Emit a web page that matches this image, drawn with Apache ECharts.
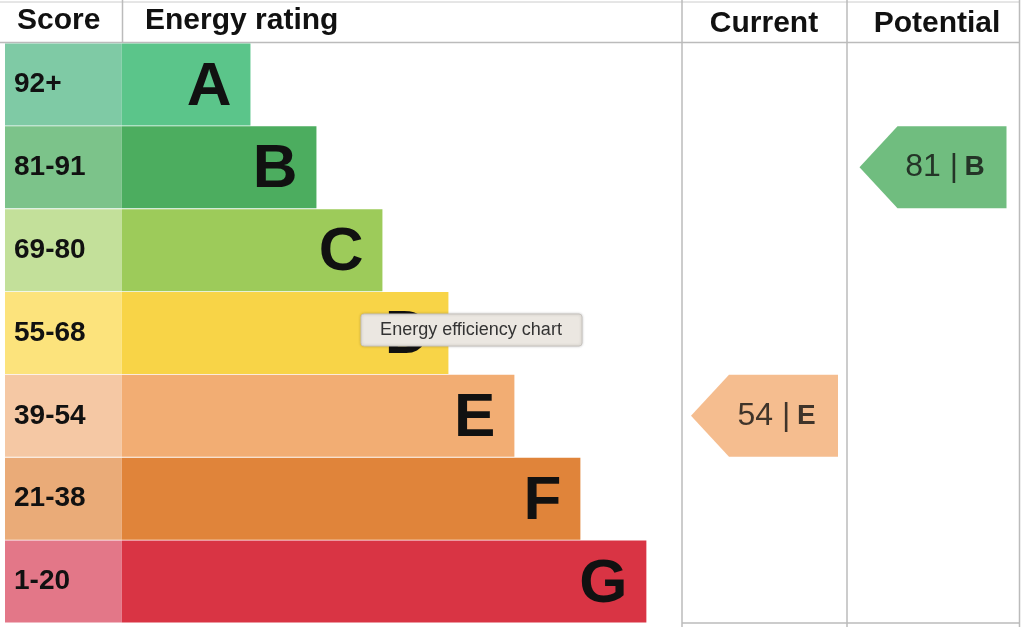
<!DOCTYPE html><html><head><meta charset="utf-8"><script src="https://cdn.jsdelivr.net/npm/echarts@6/dist/echarts.min.js"></script>
<style>body{margin:0}#c{width:1024px;height:627px}</style></head><body><div id="c"></div><script>
const ratings=['A','B','C','D','E','F','G'];
const scores=['92+','81-91','69-80','55-68','39-54','21-38','1-20'];
const barLengths=[1.95,2.95,3.95,4.95,5.95,6.95,7.95];
const barColors=['#5bc58a','#4cad5f','#9dcb5a','#f8d447','#f2ad73','#e0843a','#d93444'];
const scoreColors=['#7fcaa5','#7cc38a','#c3e09a','#fce37c','#f5c8a4','#eaab78','#e37788'];
const currentScore=54, currentRating='E';
const potentialScore=81, potentialRating='B';
const scoreColWidth=1.77;
const chart=echarts.init(document.getElementById('c'));
const arrowPath='path://M0,41 L38,0 L147,0 L147,82 L38,82 Z';
function idx(r){return ratings.indexOf(r);}
chart.setOption({
animation:false,
grid:[{left:5,top:43,width:677,height:580},{left:682,top:43,width:165,height:580},{left:847,top:43,width:172,height:580}],
xAxis:[{type:'value',min:0,max:10.26,show:false,gridIndex:0},{type:'value',min:0,max:1,show:false,gridIndex:1},{type:'value',min:0,max:1,show:false,gridIndex:2}],
yAxis:[0,1,2].map(i=>({type:'category',data:ratings,inverse:true,show:false,gridIndex:i})),
series:[
{type:'bar',stack:'s',xAxisIndex:0,yAxisIndex:0,barCategoryGap:'1%',data:scores.map((s,i)=>({value:scoreColWidth,itemStyle:{color:scoreColors[i]},label:{formatter:s}})),
label:{show:true,position:'insideLeft',offset:[4,0],color:'#111',fontSize:28,fontWeight:'bold',fontFamily:'Liberation Sans'}},
{type:'bar',stack:'s',xAxisIndex:0,yAxisIndex:0,barCategoryGap:'1%',data:barLengths.map((v,i)=>({value:v,itemStyle:{color:barColors[i]}})),
label:{show:true,position:'insideRight',offset:[-14,3],formatter:p=>ratings[p.dataIndex],color:'#111',fontSize:62,fontWeight:'bold',fontFamily:'Liberation Sans'}},
{type:'scatter',xAxisIndex:1,yAxisIndex:1,symbol:arrowPath,symbolSize:[147,82],data:[[0.5,idx(currentRating)]],itemStyle:{color:barColors[idx(currentRating)]},
label:{show:true,position:'inside',offset:[12,0],formatter:'{a|'+currentScore+' |}  {b|'+currentRating+'}',rich:{a:{fontSize:32,color:'#111',fontFamily:'Liberation Sans'},b:{fontSize:28,fontWeight:'bold',color:'#111',fontFamily:'Liberation Sans'}}}},
{type:'scatter',xAxisIndex:2,yAxisIndex:2,symbol:arrowPath,symbolSize:[147,82],data:[[0.5,idx(potentialRating)]],itemStyle:{color:barColors[idx(potentialRating)]},
label:{show:true,position:'inside',offset:[12,0],formatter:'{a|'+potentialScore+' |}  {b|'+potentialRating+'}',rich:{a:{fontSize:32,color:'#111',fontFamily:'Liberation Sans'},b:{fontSize:28,fontWeight:'bold',color:'#111',fontFamily:'Liberation Sans'}}}}
],
graphic:[
{type:'line',shape:{x1:0,y1:2,x2:1020,y2:2},style:{stroke:'#ccc',lineWidth:1}},
{type:'line',shape:{x1:0,y1:42.5,x2:1020,y2:42.5},style:{stroke:'#bbb',lineWidth:1.5}},
{type:'line',shape:{x1:122.5,y1:0,x2:122.5,y2:42},style:{stroke:'#bbb',lineWidth:1.5}},
{type:'line',shape:{x1:682,y1:0,x2:682,y2:627},style:{stroke:'#bbb',lineWidth:1.5}},
{type:'line',shape:{x1:847,y1:0,x2:847,y2:627},style:{stroke:'#bbb',lineWidth:1.5}},
{type:'line',shape:{x1:1019.5,y1:0,x2:1019.5,y2:627},style:{stroke:'#bbb',lineWidth:1.5}},
{type:'line',shape:{x1:682,y1:623,x2:1020,y2:623},style:{stroke:'#bbb',lineWidth:1.5}},
{type:'text',left:17,top:6,style:{text:'Score',font:'bold 30px Liberation Sans',fill:'#111'}},
{type:'text',left:145,top:6,style:{text:'Energy rating',font:'bold 30px Liberation Sans',fill:'#111'}},
{type:'text',x:764,y:24,style:{text:'Current',font:'bold 30px Liberation Sans',fill:'#111',align:'center',verticalAlign:'middle'}},
{type:'text',x:937,y:24,style:{text:'Potential',font:'bold 30px Liberation Sans',fill:'#111',align:'center',verticalAlign:'middle'}},
{type:'rect',shape:{x:361,y:314,width:221,height:32,r:3},style:{fill:'#ebe7e1',stroke:'#c8c4bf',lineWidth:1,shadowBlur:3,shadowColor:'rgba(0,0,0,0.2)'},z:100},
{type:'text',x:471,y:330,style:{text:'Energy efficiency chart',font:'18px Liberation Sans',fill:'#333',align:'center',verticalAlign:'middle'},z:101}
]});
</script></body></html>
